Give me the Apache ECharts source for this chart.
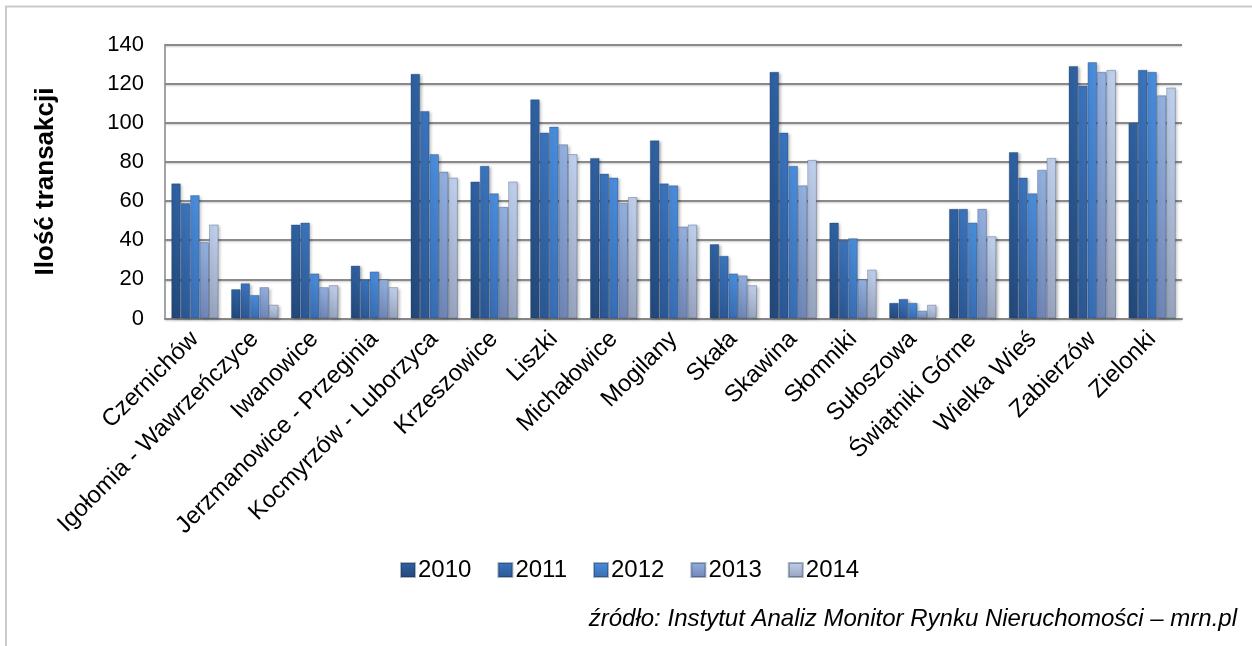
<!DOCTYPE html>
<html>
<head>
<meta charset="utf-8">
<script src="https://cdn.jsdelivr.net/npm/echarts@6/dist/echarts.min.js"></script>
<style>
  html, body { margin: 0; padding: 0; background: #ffffff; }
  #chart { width: 1252px; height: 646px; }
</style>
</head>
<body>
<div id="chart"></div>
<script>
// Municipalities (gminy) and yearly counts of transactions
const categories = [
  'Czernichów', 'Igołomia - Wawrzeńczyce', 'Iwanowice', 'Jerzmanowice - Przeginia',
  'Kocmyrzów - Luborzyca', 'Krzeszowice', 'Liszki', 'Michałowice', 'Mogilany',
  'Skała', 'Skawina', 'Słomniki', 'Sułoszowa', 'Świątniki Górne', 'Wielka Wieś',
  'Zabierzów', 'Zielonki'
];
const years = ['2010', '2011', '2012', '2013', '2014'];

const v2010 = [69, 15, 48, 27, 125, 70, 112, 82, 91, 38, 126, 49, 8, 56, 85, 129, 100];
const v2011 = [59, 18, 49, 20, 106, 78, 95, 74, 69, 32, 95, 40, 10, 56, 72, 119, 127];
const v2012 = [63, 12, 23, 24, 84, 64, 98, 72, 68, 23, 78, 41, 8, 49, 64, 131, 126];
const v2013 = [39, 16, 16, 20, 75, 57, 89, 59, 47, 22, 68, 20, 4, 56, 76, 126, 114];
const v2014 = [48, 7, 17, 16, 72, 70, 84, 62, 48, 17, 81, 25, 7, 42, 82, 127, 118];

const yTicks = { min: 0, max: 140, interval: 20 };

const yAxisTitle = 'Ilość transakcji';
const sourceNote = 'źródło: Instytut Analiz Monitor Rynku Nieruchomości – mrn.pl';

// Top/bottom colours of the vertical gradient for each year
const palette = [
  ['#2f62a2', '#23497a'],
  ['#3b74bd', '#2b5894'],
  ['#4a8ddb', '#386db3'],
  ['#93b0df', '#6f86b5'],
  ['#bfd0ec', '#97a3bd']
];
const seriesValues = [v2010, v2011, v2012, v2013, v2014];

const FONT = '"Liberation Sans", Arial, sans-serif';

function grad(c) {
  return new echarts.graphic.LinearGradient(0, 0, 0, 1, [
    { offset: 0, color: c[0] },
    { offset: 1, color: c[1] }
  ]);
}

const chart = echarts.init(document.getElementById('chart'), null, { renderer: 'canvas' });

const series = years.map((y, i) => ({
  name: y,
  type: 'bar',
  data: seriesValues[i],
  barGap: '0%',
  barCategoryGap: '21%',
  itemStyle: {
    color: grad(palette[i]),
    borderColor: 'rgba(20,40,80,0.35)',
    borderWidth: 0.8,
    shadowColor: 'rgba(0,0,0,0.28)',
    shadowBlur: 3,
    shadowOffsetX: 2,
    shadowOffsetY: 1
  },
  emphasis: { disabled: true }
}));

chart.setOption({
  animation: false,
  backgroundColor: '#ffffff',
  grid: { left: 165, right: 70, top: 44.5, bottom: 327.5, containLabel: false },
  legend: {
    data: years.map((y, i) => ({ name: y, itemStyle: { color: grad(palette[i]) } })),
    left: 395,
    top: 553,
    icon: 'rect',
    itemWidth: 14,
    itemHeight: 14,
    itemGap: 26,
    textStyle: { fontFamily: FONT, fontSize: 24, color: '#000000', padding: [0, 0, 0, -2] }
  },
  xAxis: {
    type: 'category',
    data: categories,
    axisLine: { show: true, lineStyle: { color: '#868686', width: 2 } },
    axisTick: { show: false },
    axisLabel: {
      rotate: 45,
      margin: 17,
      interval: 0,
      fontFamily: FONT,
      fontSize: 24,
      color: '#000000'
    }
  },
  yAxis: {
    type: 'value',
    min: yTicks.min,
    max: yTicks.max,
    interval: yTicks.interval,
    name: yAxisTitle,
    nameLocation: 'middle',
    nameGap: 106,
    nameTextStyle: { fontFamily: FONT, fontSize: 26, fontWeight: 'bold', color: '#000000' },
    axisLine: { show: true, lineStyle: { color: '#868686', width: 1.5 } },
    axisTick: { show: false },
    axisLabel: { margin: 21, fontFamily: FONT, fontSize: 22, color: '#000000' },
    splitLine: {
      show: true,
      lineStyle: {
        color: '#8a8a8a',
        width: 2,
        shadowColor: 'rgba(0,0,0,0.2)',
        shadowBlur: 2,
        shadowOffsetY: 1
      }
    }
  },
  graphic: [
    {
      type: 'rect',
      shape: { x: 6, y: 6.5, width: 1300, height: 700 },
      style: { fill: 'none', stroke: '#cbcbcb', lineWidth: 2 },
      silent: true
    },
    {
      type: 'text',
      right: 15,
      top: 607,
      style: {
        text: sourceNote,
        fontFamily: FONT,
        fontSize: 24,
        fontStyle: 'italic',
        fill: '#000000'
      }
    }
  ],
  series: series
});
</script>
</body>
</html>
